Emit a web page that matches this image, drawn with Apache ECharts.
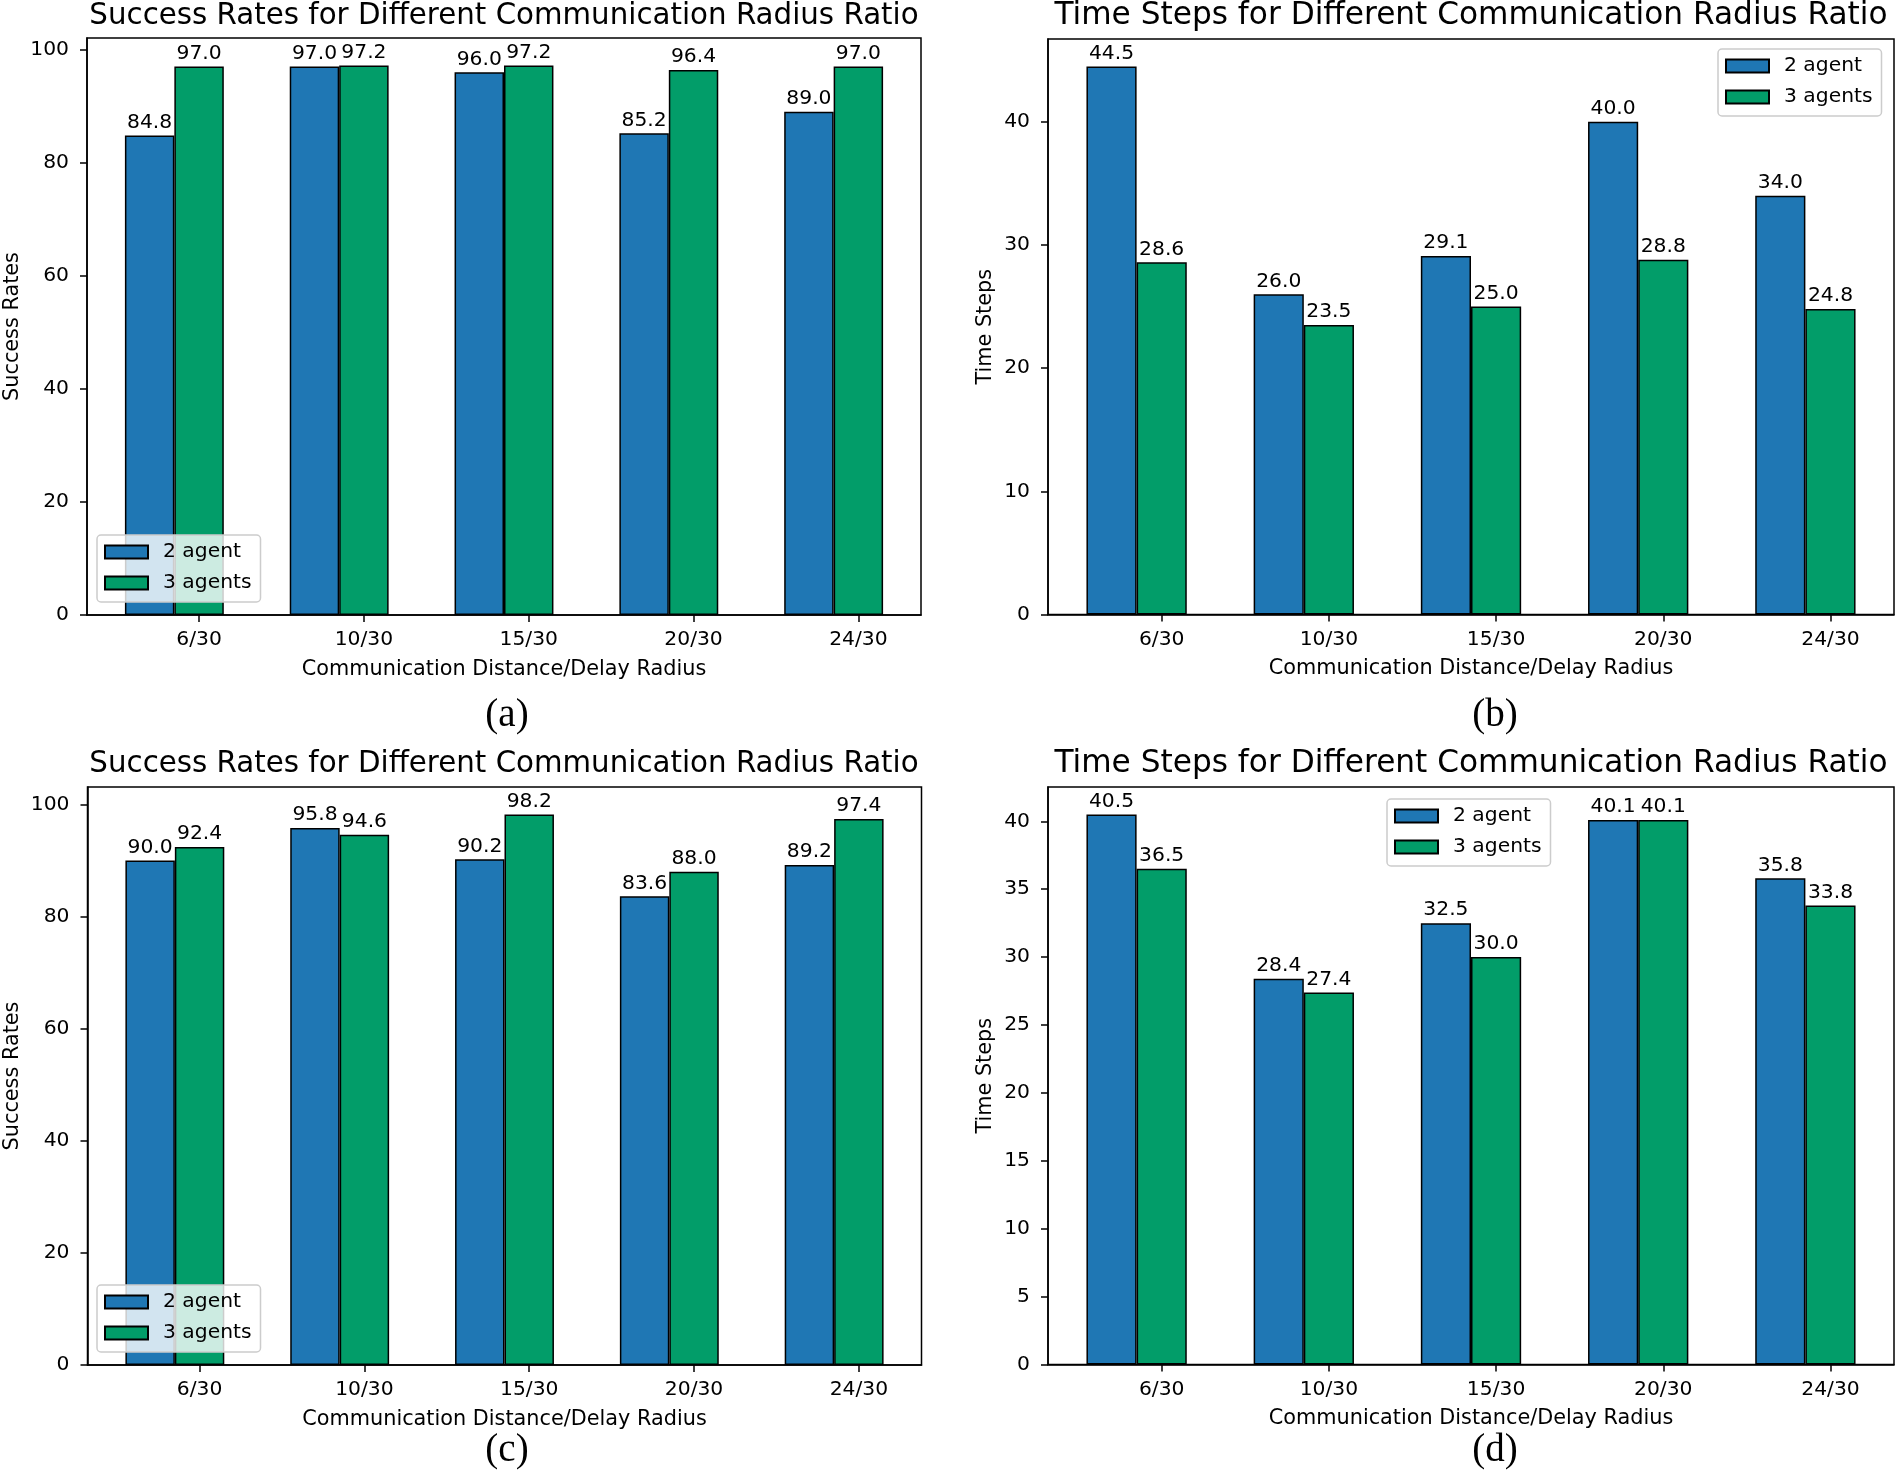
<!DOCTYPE html>
<html>
<head>
<meta charset="utf-8">
<script src="https://cdn.jsdelivr.net/npm/echarts@6/dist/echarts.min.js"></script>
<style>
html,body{margin:0;padding:0;background:#fff;}
#chart{width:1900px;height:1473px;}
</style>
</head>
<body>
<div id="chart"></div>
<script>
// ---- data ----
const categories = ['6/30', '10/30', '15/30', '20/30', '24/30'];
const seriesNames = ['2 agent', '3 agents'];
const successA_2 = [84.8, 97.0, 96.0, 85.2, 89.0];
const successA_3 = [97.0, 97.2, 97.2, 96.4, 97.0];
const timeB_2 = [44.5, 26.0, 29.1, 40.0, 34.0];
const timeB_3 = [28.6, 23.5, 25.0, 28.8, 24.8];
const successC_2 = [90.0, 95.8, 90.2, 83.6, 89.2];
const successC_3 = [92.4, 94.6, 98.2, 88.0, 97.4];
const timeD_2 = [40.5, 28.4, 32.5, 40.1, 35.8];
const timeD_3 = [36.5, 27.4, 30.0, 40.1, 33.8];
const yTicksSuccess = [0, 20, 40, 60, 80, 100];
const yTicksTimeB = [0, 10, 20, 30, 40];
const yTicksTimeD = [0, 5, 10, 15, 20, 25, 30, 35, 40];
const titles = ['Success Rates for Different Communication Radius Ratio',
                'Time Steps for Different Communication Radius Ratio',
                'Success Rates for Different Communication Radius Ratio',
                'Time Steps for Different Communication Radius Ratio'];
const yNames = ['Success Rates', 'Time Steps', 'Success Rates', 'Time Steps'];
const xName = 'Communication Distance/Delay Radius';
const captions = ['(a)', '(b)', '(c)', '(d)'];

// ---- layout / style ----
const BLUE = '#1f77b4', GREEN = '#029d69';
const FONT = 'DejaVu Sans';
const FS = 20.3;
const XMIN = -0.38, XMAX = 4.68, BW = 0.3;
const panels = [
  {grid:{left:87, top:38, width:834, height:577}, v2:successA_2, v3:successA_3, yMax:102.06, yTicks:yTicksSuccess, yGap:64,
   legend:{left:97, top:535}, title:[504,16], titleFs:29.3, cap:[507,716]},
  {grid:{left:1048, top:39, width:846, height:575.5}, v2:timeB_2, v3:timeB_3, yMax:46.725, yTicks:yTicksTimeB, yGap:52,
   legend:{left:1718, top:49}, title:[1471,16], titleFs:31.2, cap:[1495,716]},
  {grid:{left:87.5, top:787, width:834, height:578}, v2:successC_2, v3:successC_3, yMax:103.11, yTicks:yTicksSuccess, yGap:64,
   legend:{left:97, top:1285}, title:[504,764], titleFs:29.3, cap:[507,1451]},
  {grid:{left:1048, top:787, width:846, height:577.5}, v2:timeD_2, v3:timeD_3, yMax:42.525, yTicks:yTicksTimeD, yGap:52,
   legend:{left:1387, top:799}, title:[1471,764], titleFs:31.2, cap:[1495,1451]}
];

const tickPos = categories.map((c, i) => i + BW);
const grids = [], xAxes = [], yAxes = [], series = [], legends = [], graphics = [];
const lineStyle = {color:'#000', width:1.5};

panels.forEach((p, k) => {
  grids.push(Object.assign({show:true, borderColor:'#000', borderWidth:1.5, backgroundColor:'transparent', containLabel:false}, p.grid));
  xAxes.push({
    type:'value', gridIndex:k, min:XMIN, max:XMAX,
    name:xName, nameLocation:'middle', nameGap:44,
    nameTextStyle:{fontFamily:FONT, fontSize:20.8, color:'#000'},
    axisLine:{show:true, onZero:false, lineStyle},
    axisTick:{show:true, length:7, lineStyle, customValues:tickPos},
    axisLabel:{show:true, margin:15, fontFamily:FONT, fontSize:FS, color:'#000', customValues:tickPos,
      formatter: v => categories[Math.round(v - BW)]},
    splitLine:{show:false}
  });
  yAxes.push({
    type:'value', gridIndex:k, min:0, max:p.yMax,
    name:yNames[k], nameLocation:'middle', nameGap:p.yGap,
    nameTextStyle:{fontFamily:FONT, fontSize:20.8, color:'#000'},
    axisLine:{show:true, onZero:false, lineStyle},
    axisTick:{show:true, length:7, lineStyle, customValues:p.yTicks},
    axisLabel:{show:true, margin:18, fontFamily:FONT, fontSize:FS, color:'#000', customValues:p.yTicks},
    splitLine:{show:false}
  });
  const barW = BW * p.grid.width / (XMAX - XMIN);
  [[p.v2, BLUE, 0], [p.v3, GREEN, BW]].forEach(([vals, col, off], j) => {
    series.push({
      type:'bar', name:seriesNames[j], xAxisIndex:k, yAxisIndex:k,
      data: vals.map((v, i) => [i + off, v]),
      barWidth: barW, barGap:'-100%',
      itemStyle:{color:col, borderColor:'#000', borderWidth:1.5},
      label:{show:true, position:'top', distance:3, fontFamily:FONT, fontSize:FS, color:'#000',
        formatter: q => q.value[1].toFixed(1)},
      emphasis:{disabled:true}, animation:false
    });
  });
  legends.push({
    orient:'vertical', left:p.legend.left, top:p.legend.top,
    data:seriesNames, icon:'rect', itemWidth:43, itemHeight:13, itemGap:11,
    padding:[7, 9, 9, 7],
    backgroundColor:'rgba(255,255,255,0.8)', borderColor:'#cccccc', borderWidth:1.5, borderRadius:4,
    textStyle:{fontFamily:FONT, fontSize:FS, color:'#000', padding:[0,0,0,10]},
    selectedMode:false, z:10
  });
  graphics.push({type:'text', x:p.title[0], y:p.title[1],
    style:{text:titles[k], fontFamily:FONT, fontSize:p.titleFs, fill:'#000', align:'center', verticalAlign:'middle'}});
  graphics.push({type:'text', x:p.cap[0], y:p.cap[1],
    style:{text:captions[k], fontFamily:'Liberation Serif', fontSize:39, fill:'#000', align:'center', verticalAlign:'middle'}});
});

const chart = echarts.init(document.getElementById('chart'), null, {renderer:'canvas'});
chart.setOption({
  backgroundColor:'#ffffff',
  animation:false,
  grid:grids, xAxis:xAxes, yAxis:yAxes, series, legend:legends,
  graphic:graphics
});
</script>
</body>
</html>
